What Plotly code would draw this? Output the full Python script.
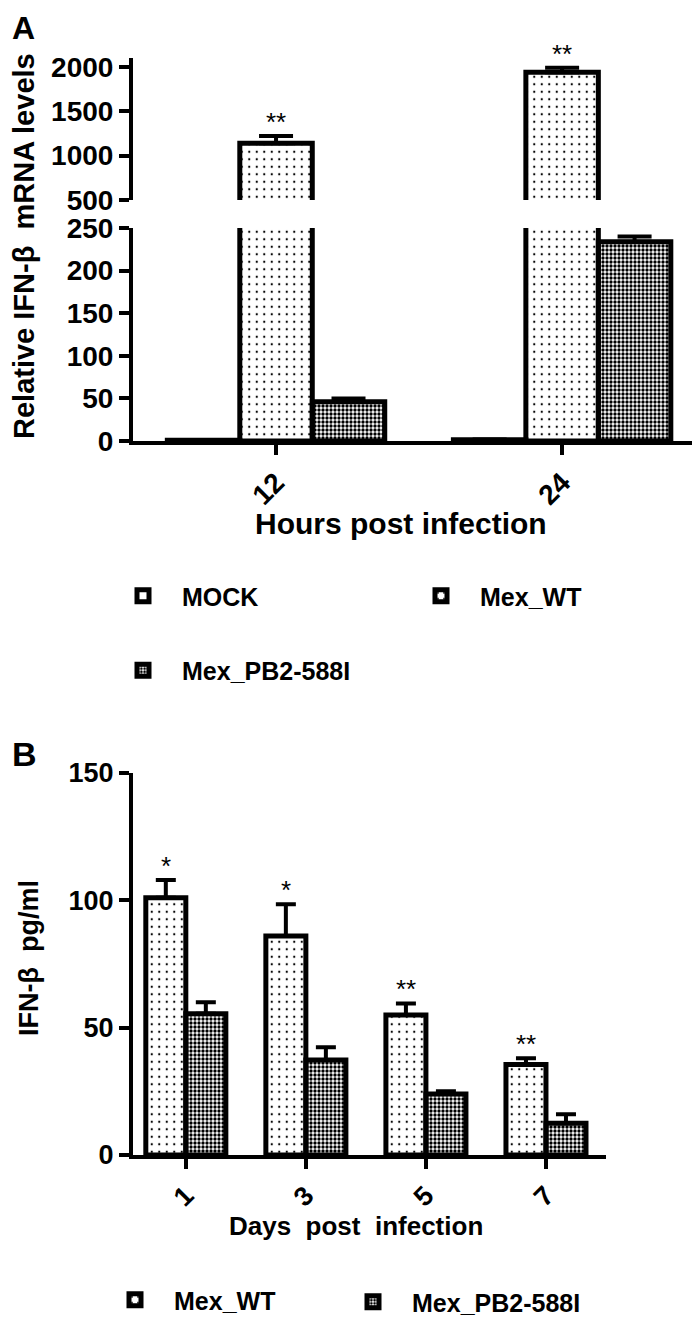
import plotly.graph_objects as go

# ---------------- data ----------------
hours = ["12", "24"]
mock_a = [1.0, 1.5]
mock_a_err = [0.2, 0.3]
wt_a = [1140, 1940]
wt_a_err = [80, 50]
pb2_a = [46, 234]
pb2_a_err = [4, 6]
sig_a = ["**", "**"]

days = ["1", "3", "5", "7"]
wt_b = [101, 86, 55, 35.5]
wt_b_err = [7, 12.5, 4.5, 2.5]
pb2_b = [55.5, 37.3, 24, 12.5]
pb2_b_err = [4.5, 5, 1, 3.5]
sig_b = ["*", "*", "**", "**"]

ticks_a_top = [500, 1000, 1500, 2000]
ticks_a_bot = [0, 50, 100, 150, 200, 250]
ticks_b = [0, 50, 100, 150]

# ---------------- geometry helpers ----------------
W, H = 700, 1320
ML, MR = 125, 2
PW = W - ML - MR


def px_x(p):
    return (p - ML) / PW


def px_y(p):
    return 1 - p / H


FONT = "Liberation Sans, Arial, sans-serif"
BLACK = "black"

pat_wt = dict(shape=".", size=7.5, solidity=0.07, fgcolor=BLACK, fillmode="replace")
pat_pb2 = dict(shape=".", size=4, solidity=0.55, fgcolor=BLACK, fillmode="replace")


def err(vals, w):
    return dict(type="data", symmetric=False, array=vals, arrayminus=[0] * len(vals),
                color=BLACK, thickness=4, width=w)


fig = go.Figure()

# ---- Panel A: bottom (y2) and top (y) segments ----
series_a = [
    ("MOCK", mock_a, mock_a_err, None, "legend"),
    ("Mex_WT", wt_a, wt_a_err, pat_wt, "legend2"),
    ("Mex_PB2-588I", pb2_a, pb2_a_err, pat_pb2, "legend"),
]
for xa, ya, show in [("x", "y2", True), ("x2", "y", False)]:
    for name, vals, e, pat, lg in series_a:
        marker = dict(color="white", line=dict(color=BLACK, width=5))
        if pat:
            marker["pattern"] = pat
        fig.add_trace(go.Bar(
            x=hours, y=vals, name=name, marker=marker, error_y=err(e, 17),
            xaxis=xa, yaxis=ya, showlegend=show, legend=lg, legendgroup=name,
        ))

# ---- Panel B ----
bw = 1 / 3
series_b = [
    ("Mex_WT", wt_b, wt_b_err, pat_wt, "legend3", -bw),
    ("Mex_PB2-588I", pb2_b, pb2_b_err, pat_pb2, "legend4", 0),
]
for name, vals, e, pat, lg, off in series_b:
    fig.add_trace(go.Bar(
        x=days, y=vals, name=name,
        marker=dict(color="white", line=dict(color=BLACK, width=5), pattern=pat),
        error_y=err(e, 10), width=bw, offset=off,
        xaxis="x3", yaxis="y3", legend=lg, legendgroup=name + "B",
    ))

# ---- significance marks ----
ann = []
for i, s in enumerate(sig_a):
    top = wt_a[i] + wt_a_err[i]
    ann.append(dict(x=i, y=top, xref="x2" if top > 250 else "x", yref="y" if top > 250 else "y2",
                    text=s, showarrow=False, yanchor="bottom", yshift=-3,
                    font=dict(family=FONT, size=26, color=BLACK)))
for i, s in enumerate(sig_b):
    ann.append(dict(x=i - bw / 2, y=wt_b[i] + wt_b_err[i], xref="x3", yref="y3",
                    text=s, showarrow=False, yanchor="bottom", yshift=-3,
                    font=dict(family=FONT, size=26, color=BLACK)))

# ---- titles / panel letters ----
bold = lambda s: dict(family=FONT, size=s, color=BLACK, weight="bold")
ann += [
    dict(x=px_x(2), y=px_y(0), xref="paper", yref="paper", text="A", showarrow=False,
         xanchor="left", yanchor="top", font=bold(32)),
    dict(x=px_x(2), y=px_y(746), xref="paper", yref="paper", text="B", showarrow=False,
         xanchor="left", yanchor="middle", font=bold(34)),
    dict(x=px_x(16), y=px_y(238), xref="paper", yref="paper", text="Relative IFN-β  mRNA levels",
         textangle=-90, showarrow=False, xanchor="center", yanchor="middle", font=bold(29)),
    dict(x=px_x(393), y=px_y(515), xref="paper", yref="paper", text="Hours post infection",
         showarrow=False, xanchor="center", yanchor="middle", font=bold(30)),
    dict(x=px_x(21), y=px_y(950), xref="paper", yref="paper", text="IFN-β  pg/ml",
         textangle=-90, showarrow=False, xanchor="center", yanchor="middle", font=bold(27)),
    dict(x=px_x(348), y=px_y(1218), xref="paper", yref="paper", text="Days  post  infection",
         showarrow=False, xanchor="center", yanchor="middle", font=bold(26)),
]

axis_common = dict(showline=True, linecolor=BLACK, linewidth=4, ticks="outside", ticklen=10,
                   tickwidth=4, tickcolor=BLACK, showgrid=False, zeroline=False,
                   tickfont=bold(28), fixedrange=True)

leg_common = dict(font=bold(25), itemwidth=68, bgcolor="rgba(0,0,0,0)", xanchor="left",
                  yanchor="top", traceorder="grouped", tracegroupgap=39)

fig.update_layout(
    width=W, height=H,
    margin=dict(l=ML, r=MR, t=0, b=0, autoexpand=False),
    paper_bgcolor="white", plot_bgcolor="white",
    barmode="group", bargap=0.24, bargroupgap=0,
    showlegend=True,
    xaxis=dict(axis_common, type="category", domain=[0, 1], anchor="y2", range=[-0.5, 1.503],
               tickangle=-45),
    xaxis2=dict(type="category", domain=[0, 1], anchor="y", range=[-0.5, 1.503], visible=False,
                matches="x"),
    yaxis=dict(axis_common, domain=[px_y(192), px_y(50)], anchor="x2", range=[500, 2100],
               tickvals=ticks_a_top),
    yaxis2=dict(axis_common, domain=[px_y(433), px_y(220)], anchor="x", range=[0, 250],
                tickvals=ticks_a_bot),
    xaxis3=dict(axis_common, type="category", domain=[0, px_x(598)], anchor="y3",
                range=[-0.44, 3.5], tickangle=-45, tickfont=bold(27)),
    yaxis3=dict(axis_common, domain=[px_y(1147), px_y(765)], anchor="x3", range=[0, 150],
                tickvals=ticks_b, tickfont=bold(27)),
    legend=dict(leg_common, x=px_x(96), y=px_y(565)),
    legend2=dict(leg_common, x=px_x(394), y=px_y(565)),
    legend3=dict(leg_common, x=px_x(88), y=px_y(1269)),
    legend4=dict(leg_common, x=px_x(326), y=px_y(1271)),
    annotations=ann,
)

fig.write_html("out.html")
